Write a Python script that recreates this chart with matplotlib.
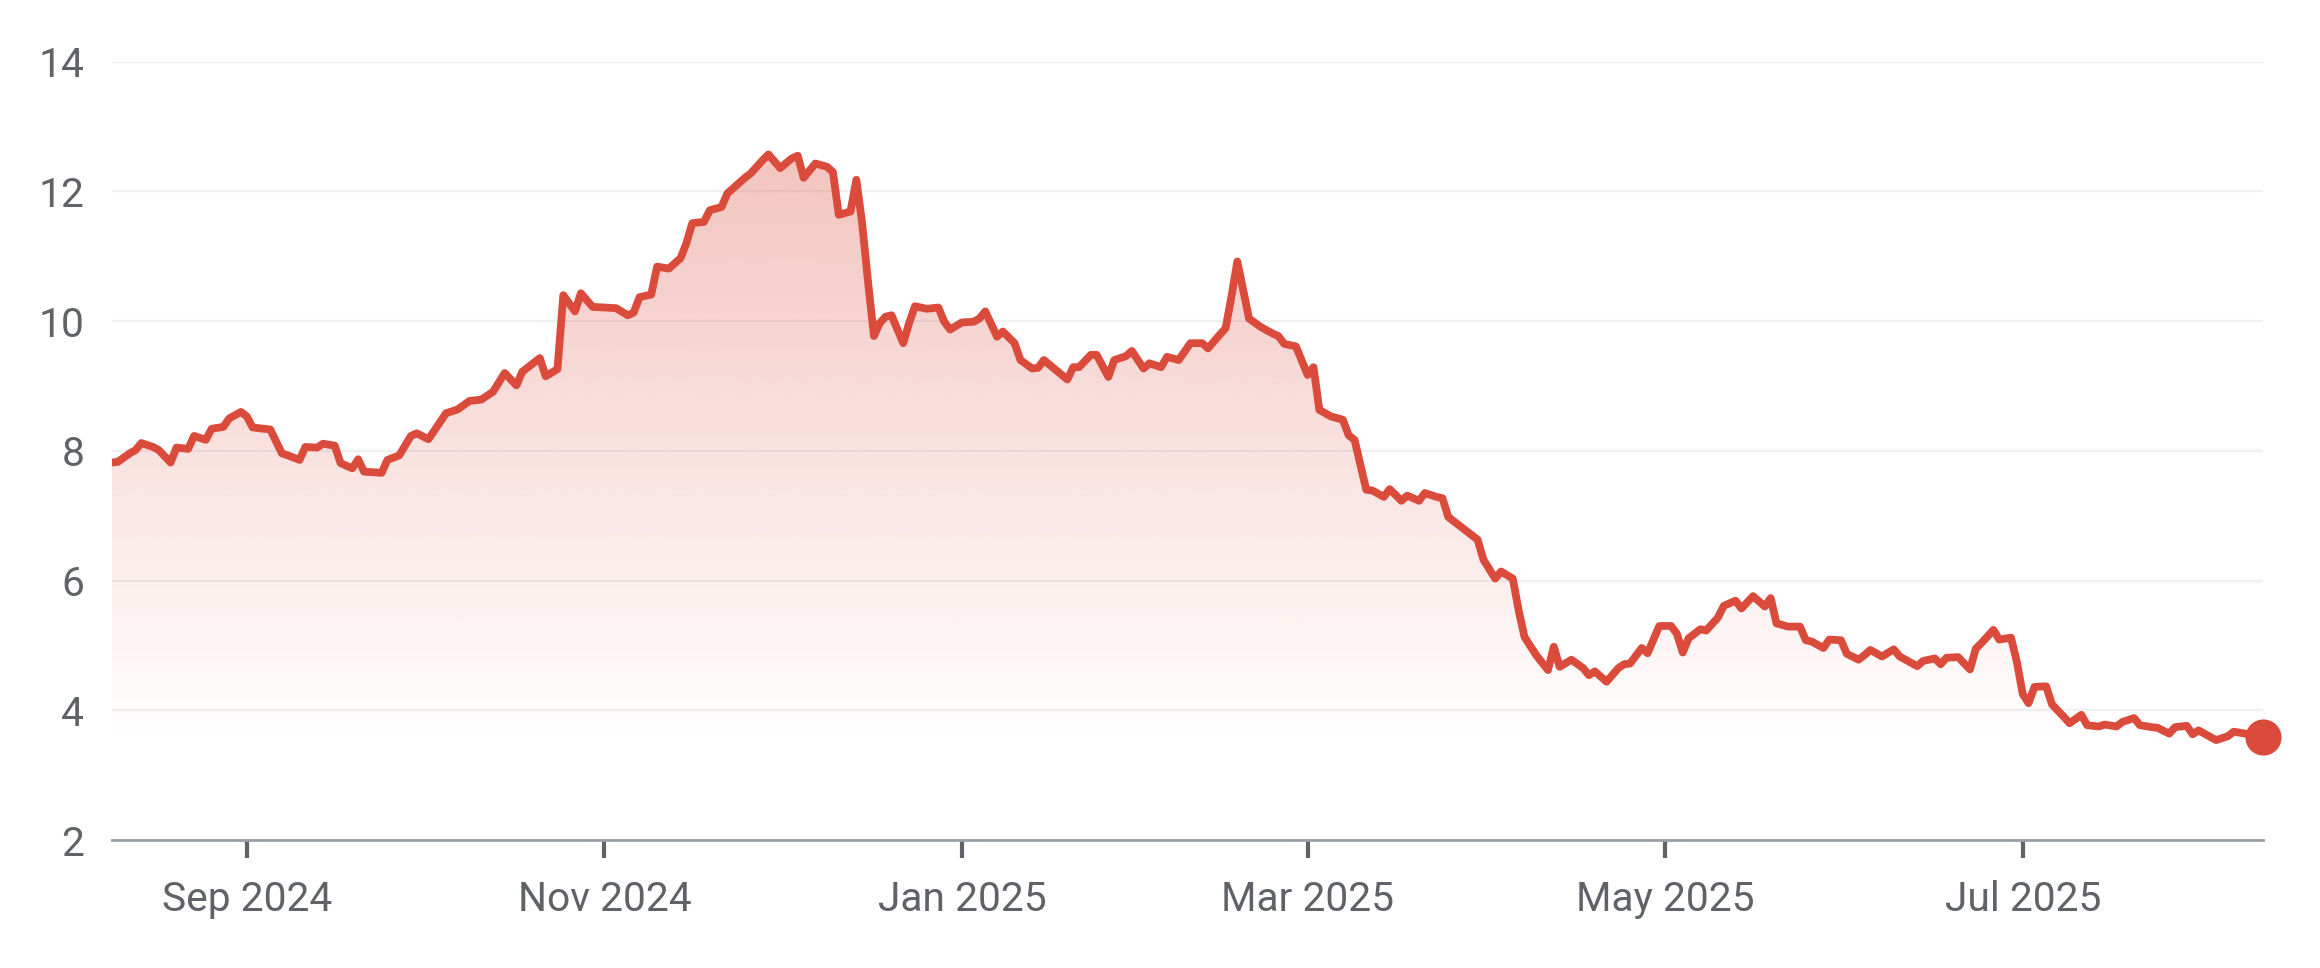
import numpy as np
import pandas as pd
import matplotlib
matplotlib.use("Agg")
import matplotlib.pyplot as plt
import matplotlib.dates as mdates
from matplotlib.colors import to_rgb

plt.rcParams['font.family'] = ['Roboto', 'DejaVu Sans']

# days counted from 1 Sep 2024
base_date = "2024-09-01"
day = [-23, -22, -20, -19, -18, -16, -15, -13, -12, -10, -9, -7, -6, -4, -3, -1,
       0, 1, 4, 6, 7, 9, 10, 12, 13, 15, 16, 18, 19, 20, 23, 24, 26, 28, 29, 31,
       34, 36, 38, 40, 42, 44, 46, 47, 50, 51, 53, 54, 56, 57, 59, 63, 65, 66,
       67, 69, 70, 72, 74, 75, 76, 78, 79, 81, 82, 85, 86, 88, 89, 91, 93, 94,
       95, 97, 99, 100, 101, 103, 104, 105, 106, 107, 108, 109, 110, 112, 113,
       114, 116, 118, 119, 120, 122, 124, 125, 126, 128, 129, 131, 132, 134,
       135, 136, 138, 140, 141, 142, 144, 145, 147, 148, 150, 151, 153, 154,
       156, 157, 159, 161, 163, 164, 166, 167, 168, 169, 170, 171, 173, 175,
       176, 177, 179, 181, 182, 183, 185, 187, 188, 189, 191, 192, 194, 195,
       197, 198, 200, 201, 203, 204, 205, 207, 209, 210, 211, 213, 214, 216,
       217, 218, 220, 222, 223, 224, 226, 228, 229, 230, 232, 234, 235, 236,
       238, 239, 241, 243, 244, 245, 246, 248, 249, 251, 252, 254, 255, 257,
       259, 260, 261, 263, 265, 266, 267, 269, 270, 272, 273, 275, 276, 277,
       279, 281, 282, 285, 286, 288, 289, 290, 292, 294, 295, 296, 298, 299,
       301, 302, 303, 304, 305, 307, 308, 310, 311, 313, 314, 316, 317, 319,
       320, 322, 323, 325, 326, 328, 329, 331, 332, 333, 335, 336, 338, 339,
       341, 342, 344]
price = [7.82, 7.83, 7.96, 8.01, 8.12, 8.06, 8.01, 7.82, 8.05, 8.03, 8.23, 8.17,
         8.34, 8.37, 8.50, 8.60, 8.53, 8.36, 8.33, 7.96, 7.93, 7.86, 8.06, 8.05,
         8.11, 8.08, 7.81, 7.73, 7.87, 7.68, 7.66, 7.86, 7.93, 8.23, 8.27, 8.18,
         8.58, 8.64, 8.77, 8.79, 8.91, 9.20, 9.01, 9.22, 9.43, 9.15, 9.26, 10.40,
         10.15, 10.43, 10.22, 10.20, 10.09, 10.13, 10.37, 10.41, 10.84, 10.81,
         10.97, 11.20, 11.51, 11.53, 11.71, 11.76, 11.97, 12.21, 12.28, 12.48,
         12.57, 12.36, 12.51, 12.55, 12.21, 12.43, 12.38, 12.30, 11.64, 11.69,
         12.18, 11.50, 10.60, 9.77, 9.97, 10.07, 10.09, 9.66, 9.97, 10.23, 10.19,
         10.21, 9.99, 9.87, 9.98, 9.99, 10.04, 10.15, 9.76, 9.84, 9.66, 9.40,
         9.27, 9.28, 9.40, 9.25, 9.10, 9.29, 9.29, 9.48, 9.48, 9.14, 9.40, 9.46,
         9.54, 9.27, 9.35, 9.29, 9.45, 9.40, 9.66, 9.66, 9.58, 9.79, 9.89, 10.38,
         10.92, 10.48, 10.04, 9.91, 9.81, 9.77, 9.65, 9.61, 9.17, 9.29, 8.63,
         8.53, 8.48, 8.24, 8.17, 7.40, 7.39, 7.29, 7.41, 7.23, 7.31, 7.23, 7.35,
         7.29, 7.27, 6.98, 6.84, 6.70, 6.63, 6.32, 6.03, 6.14, 6.03, 5.54, 5.13,
         4.85, 4.62, 4.98, 4.67, 4.78, 4.65, 4.54, 4.60, 4.44, 4.65, 4.71, 4.72,
         4.96, 4.88, 5.30, 5.30, 5.18, 4.89, 5.11, 5.25, 5.23, 5.43, 5.61, 5.69,
         5.57, 5.76, 5.60, 5.73, 5.34, 5.29, 5.29, 5.08, 5.06, 4.96, 5.09, 5.08,
         4.87, 4.78, 4.85, 4.93, 4.83, 4.94, 4.83, 4.68, 4.76, 4.80, 4.71, 4.81,
         4.82, 4.63, 4.95, 5.04, 5.24, 5.09, 5.12, 4.75, 4.25, 4.11, 4.36, 4.37,
         4.09, 3.90, 3.80, 3.93, 3.77, 3.75, 3.78, 3.75, 3.82, 3.88, 3.77, 3.74,
         3.73, 3.64, 3.74, 3.76, 3.63, 3.69, 3.59, 3.54, 3.60, 3.67, 3.64, 3.60,
         3.59]
y_ticks = [2, 4, 6, 8, 10, 12, 14]

red = "#db4b3c"
grey_text = "#5f6368"

dates = pd.Timestamp(base_date) + pd.to_timedelta(day, unit="D")
x = mdates.date2num(dates.to_pydatetime())
y = np.array(price)

W, H = 2320, 968
fig = plt.figure(figsize=(W / 200, H / 200), dpi=200)
ax = fig.add_axes([112 / W, 128 / H, (2263 - 112) / W, (840 - 61.7) / H])

ax.set_xlim(x[0], x[-1])
ax.set_ylim(2, 14)

# gradient fill below the line
poly = ax.fill_between(x, y, 2, facecolor="none", edgecolor="none")
rgb = to_rgb(red)
levels = np.linspace(2, 14, 300)
alpha = np.clip(0.33 * (levels - 3.5) / (12.6 - 3.5), 0, 1)
grad = np.zeros((len(levels), 1, 4))
grad[:, 0, :3] = rgb
grad[:, 0, 3] = alpha
im = ax.imshow(grad, extent=[x[0], x[-1], 2, 14], origin="lower",
               aspect="auto", interpolation="bilinear", zorder=1)
im.set_clip_path(poly.get_paths()[0], transform=ax.transData)

ax.plot(x, y, color=red, lw=2.8, solid_joinstyle="round",
        solid_capstyle="round", zorder=3)
ax.plot(x[-1], y[-1], "o", color=red, ms=12, clip_on=False, zorder=4)

ax.set_yticks(y_ticks)
ax.yaxis.grid(True, color="#eef0f2", lw=0.8)
ax.set_axisbelow(True)
ax.xaxis.set_major_locator(mdates.MonthLocator(bymonth=[1, 3, 5, 7, 9, 11]))
ax.xaxis.set_major_formatter(mdates.DateFormatter("%b %Y"))

for s in ["top", "right", "left"]:
    ax.spines[s].set_visible(False)
ax.spines["bottom"].set_color("#9aa0a6")
ax.spines["bottom"].set_linewidth(1.0)
ax.spines["bottom"].set_zorder(5)

ax.tick_params(axis="y", length=0, pad=10, labelsize=14.7, labelcolor=grey_text)
ax.tick_params(axis="x", length=6.5, width=1.5, color=grey_text, pad=8,
               labelsize=14.7, labelcolor=grey_text)

fig.savefig("out.png", dpi=200, facecolor="white")
